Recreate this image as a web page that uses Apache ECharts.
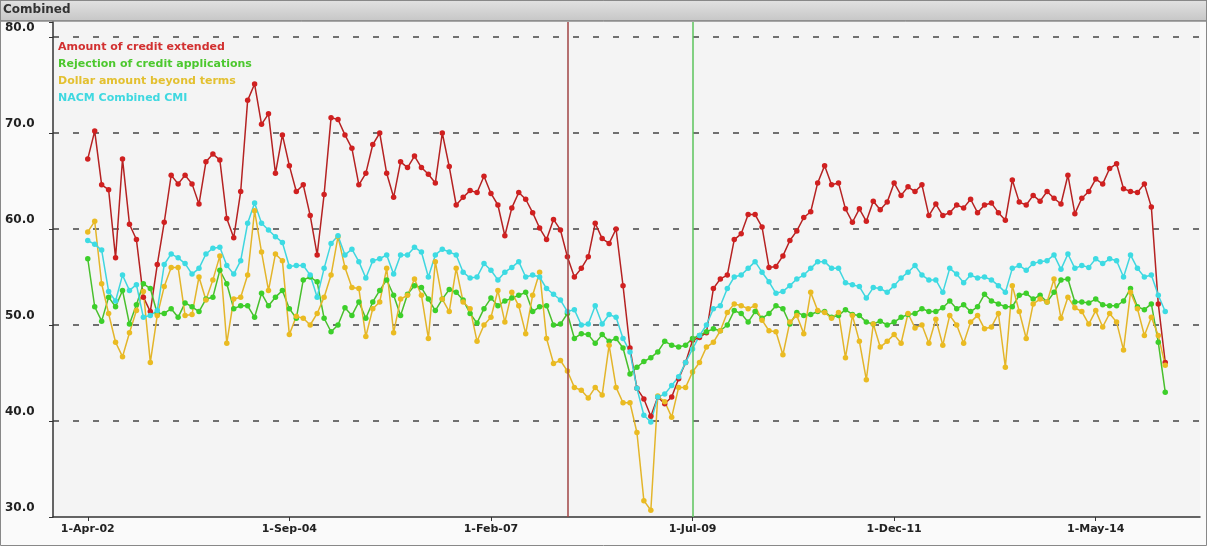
<!DOCTYPE html>
<html>
<head>
<meta charset="utf-8">
<script src="https://cdn.jsdelivr.net/npm/echarts@6/dist/echarts.min.js"></script>
<style>
html,body{margin:0;padding:0;background:#fafafa;}
#chart{width:1207px;height:546px;}
</style>
</head>
<body>
<div id="chart"></div>
<script>
// ---- categories (monthly, first-of-month) ----
const monthNames = ['Jan','Feb','Mar','Apr','May','Jun','Jul','Aug','Sep','Oct','Nov','Dec'];
const firstCatYear = 2001, firstCatMonth = 10;   // axis starts at 1-Nov-01
const categoryCount = 166;                        // through 1-Aug-15
const dataStartOffset = 5;                        // first data point = 1-Apr-02
const tickLabels = ['1-Apr-02','1-Sep-04','1-Feb-07','1-Jul-09','1-Dec-11','1-May-14'];
const markerLines = ['1-Jan-08','1-Jul-09'];

const seriesNames = ['Amount of credit extended','Rejection of credit applications','Dollar amount beyond terms','NACM Combined CMI'];

// ---- series values, Apr-02 .. Mar-15 ----
const creditExtended = [
67.3,70.2,64.6,64.1,57.0,67.3,60.5,58.9,52.9,51.4,56.3,60.7,65.6,64.7,65.6,64.7,62.6,67.0,67.8,67.2,
61.1,59.1,63.9,73.4,75.1,70.9,72.0,65.8,69.8,66.6,63.9,64.6,61.4,57.3,63.6,71.6,71.4,69.8,68.4,64.6,
65.8,68.8,70.0,65.8,63.3,67.0,66.4,67.6,66.4,65.7,64.8,70.0,66.5,62.5,63.3,64.0,63.8,65.5,63.7,62.5,
59.3,62.2,63.8,63.1,61.7,60.1,58.9,61.0,59.9,57.1,55.0,55.9,57.1,60.6,59.0,58.5,60.0,54.1,47.6,43.4,
42.3,40.5,42.5,41.8,42.5,44.4,46.1,48.4,48.7,49.2,53.8,54.8,55.2,58.9,59.5,61.5,61.5,60.2,56.0,56.1,
57.2,58.8,59.8,61.2,61.8,64.8,66.6,64.6,64.8,62.1,60.7,62.1,60.8,62.9,62.0,62.8,64.8,63.5,64.4,63.9,
64.6,61.4,62.6,61.4,61.7,62.5,62.2,63.1,61.7,62.5,62.7,61.7,60.9,65.1,62.8,62.5,63.5,62.9,63.9,63.2,
62.6,65.6,61.6,63.2,63.9,65.2,64.7,66.3,66.8,64.2,63.9,63.8,64.7,62.3,52.2,46.1];

const rejections = [
56.9,51.9,50.4,52.9,51.9,53.6,50.1,52.1,54.3,53.8,51.2,51.2,51.7,50.8,52.3,51.9,51.4,52.7,52.9,55.7,
54.3,51.7,52.0,52.0,50.8,53.3,52.0,52.9,53.6,51.7,50.7,54.7,55.0,54.5,50.7,49.3,50.0,51.8,51.0,52.4,
50.7,52.4,53.6,54.7,53.1,51.0,53.2,54.1,53.9,52.7,51.5,52.7,53.7,53.4,52.6,51.2,50.2,51.7,52.8,52.0,
52.5,52.8,53.1,53.4,51.4,51.9,52.0,50.0,50.1,51.2,48.6,49.1,49.0,48.1,49.0,48.3,48.6,47.6,44.9,45.6,
46.2,46.6,47.2,48.3,47.9,47.7,47.9,48.6,48.9,49.3,49.6,49.4,50.0,51.5,51.2,50.3,51.4,50.7,51.2,52.0,
51.7,50.1,51.3,51.0,51.1,51.4,51.4,50.8,51.0,51.6,51.1,51.0,50.3,50.1,50.4,50.0,50.3,50.8,51.1,51.2,
51.7,51.4,51.4,51.8,52.5,51.7,52.1,51.4,51.9,53.2,52.5,52.2,51.9,51.9,53.1,53.3,52.7,53.1,52.4,53.4,
54.7,54.8,52.4,52.4,52.3,52.7,52.1,52.0,52.0,52.5,53.8,51.9,51.6,52.2,48.2,43.0];

const beyondTerms = [
59.7,60.8,54.3,51.2,48.2,46.7,49.2,51.5,53.5,46.1,51.0,54.0,56.0,56.0,51.0,51.1,55.0,52.6,54.7,57.2,
48.1,52.7,52.9,55.2,61.9,57.6,53.6,57.4,56.7,49.0,50.9,50.7,50.0,51.2,52.9,55.2,59.2,56.0,53.9,53.8,
48.8,51.7,52.4,55.9,49.2,52.7,53.1,54.8,53.1,48.6,56.6,52.7,51.4,55.9,52.4,51.7,48.3,50.0,50.8,53.6,
50.3,53.4,52.0,49.1,53.1,55.5,48.6,46.0,46.3,45.2,43.5,43.2,42.4,43.5,42.7,47.9,43.5,41.9,41.9,38.8,
31.7,30.7,42.6,42.0,40.4,43.5,43.5,45.1,46.1,47.7,48.2,49.4,51.3,52.2,52.0,51.7,52.0,50.5,49.4,49.3,
46.9,50.3,51.0,49.1,53.4,51.5,51.3,50.7,51.3,46.6,51.0,48.3,44.3,50.1,47.7,48.3,49.0,48.1,51.2,49.7,
50.0,48.1,50.6,47.9,51.0,50.0,48.1,50.3,51.0,49.6,49.8,51.2,45.6,54.1,51.4,48.6,52.2,52.7,52.4,54.8,
50.7,52.9,51.8,51.4,50.1,51.5,49.8,51.2,50.3,47.4,53.4,51.7,48.9,50.8,48.9,45.8];

const combinedCMI = [
58.8,58.4,57.8,53.5,52.5,55.2,53.6,54.2,50.8,51.0,51.5,56.3,57.4,57.0,56.4,55.3,55.9,57.4,58.0,58.1,
56.2,55.3,56.7,60.6,62.7,60.6,59.9,59.2,58.6,56.1,56.2,56.2,55.2,52.9,55.9,58.5,59.3,57.3,57.9,56.6,
54.9,56.7,56.9,57.3,55.3,57.3,57.3,58.1,57.6,55.0,57.3,57.9,57.6,57.3,55.5,54.9,55.0,56.4,55.7,54.7,
55.5,56.0,56.6,55.0,55.2,55.0,53.8,53.2,52.6,51.4,51.6,50.0,50.1,52.0,50.1,51.1,50.8,48.6,47.2,43.4,
40.6,39.9,42.5,42.8,43.7,44.6,46.1,47.5,48.9,50.0,51.7,52.0,53.8,55.0,55.2,55.9,56.6,55.5,54.5,53.3,
53.5,54.1,54.8,55.2,55.9,56.6,56.6,55.9,55.9,54.4,54.2,54.0,52.8,53.9,53.8,53.4,54.1,54.9,55.5,56.2,
55.2,54.7,54.7,53.4,55.9,55.3,54.4,55.2,54.9,55.0,54.7,54.1,53.4,55.9,56.2,55.7,56.4,56.6,56.7,57.3,
55.8,57.4,55.9,56.2,56.0,56.9,56.4,56.9,56.7,55.0,57.3,55.9,55.0,55.2,53.1,51.4];

const yTickValues = [30, 40, 50, 60, 70, 80];

// ---- build categories ----
const categories = [];
for (let k = 0; k < categoryCount; k++) {
  const t = firstCatMonth + k;
  const m = t % 12;
  const y = firstCatYear + Math.floor(t / 12);
  categories.push('1-' + monthNames[m] + '-' + String(y % 100).padStart(2, '0'));
}
const toPairs = arr => arr.map((v, k) => [categories[k + dataStartOffset], v]);

const FONT = 'DejaVu Sans';
const lineColors = ['#b52222', '#48bf2c', '#e3b52a', '#3fd6df'];
const dotColors  = ['#d02020', '#3ccf2a', '#eabb22', '#3ddbe3'];
const legendColors = ['#d23030', '#4cc82e', '#e3c030', '#3fd8e0'];
const valuesList = [creditExtended, rejections, beyondTerms, combinedCMI];

const isTick = (idx, val) => tickLabels.indexOf(val) >= 0;

const series = valuesList.map((vals, s) => ({
  name: seriesNames[s],
  type: 'line',
  data: toPairs(vals),
  symbol: 'circle',
  symbolSize: 5.5,
  showSymbol: true,
  showAllSymbol: true,
  lineStyle: { width: 1.5, color: lineColors[s] },
  itemStyle: { color: dotColors[s], borderWidth: 0 },
  emphasis: { disabled: true },
  z: 3
}));
series[0].markLine = {
  silent: true,
  symbol: ['none', 'none'],
  label: { show: false },
  lineStyle: { type: 'solid', width: 1.5 },
  data: [
    { xAxis: markerLines[0], lineStyle: { color: '#a04545', type: 'solid', width: 1.5 } },
    { xAxis: markerLines[1], lineStyle: { color: '#5cc45c', type: 'solid', width: 1.5 } }
  ]
};

const chart = echarts.init(document.getElementById('chart'), null, { renderer: 'canvas' });
chart.setOption({
  animation: false,
  backgroundColor: '#fafafa',
  textStyle: { fontFamily: FONT },
  grid: { left: 53, right: 7, top: 22, bottom: 29, show: true, backgroundColor: '#f4f4f4', borderWidth: 0 },
  legend: {
    orient: 'vertical',
    left: 53, top: 40,
    padding: 0,
    itemGap: 3,
    itemWidth: 0, itemHeight: 0,
    icon: 'rect',
    selectedMode: false,
    textStyle: { fontFamily: FONT, fontWeight: 'bold', fontSize: 11, lineHeight: 14 },
    data: seriesNames.map((n, s) => ({ name: n, textStyle: { color: legendColors[s] } }))
  },
  xAxis: {
    type: 'category',
    boundaryGap: false,
    data: categories,
    axisLine: { lineStyle: { color: '#333', width: 1.5 } },
    axisTick: { show: true, interval: isTick, length: 4, lineStyle: { color: '#333' } },
    axisLabel: { interval: isTick, color: '#222', fontWeight: 'bold', fontSize: 11, fontFamily: FONT, margin: 7 },
    splitLine: { show: false }
  },
  yAxis: {
    type: 'value',
    min: yTickValues[0],
    max: 81.5625,
    interval: 10,
    axisLine: { show: true, lineStyle: { color: '#333', width: 1.5 } },
    axisTick: { show: true, length: 4, lineStyle: { color: '#333' } },
    axisLabel: {
      color: '#222', fontWeight: 'bold', fontSize: 12, fontFamily: FONT,
      align: 'left', verticalAlign: 'bottom', margin: 48, padding: [0, 0, 3, 0],
      formatter: v => (yTickValues.indexOf(v) >= 0 ? v.toFixed(1) : '')
    },
    splitLine: { show: true, showMinLine: false, showMaxLine: false,
      lineStyle: { color: '#444', width: 1.5, type: [6, 14] } }
  },
  graphic: [
    { type: 'rect', shape: { x: 0, y: 0, width: 1207, height: 21 },
      style: { fill: new echarts.graphic.LinearGradient(0, 0, 0, 1, [
        { offset: 0, color: '#e2e2e2' }, { offset: 1, color: '#c6c6c6' }]), stroke: '#555', lineWidth: 1 }, z: 10 },
    { type: 'text', left: 3, top: 4, z: 11,
      style: { text: 'Combined', fill: '#333', font: 'bold 12px "DejaVu Sans"' } },
    { type: 'rect', shape: { x: 0.5, y: 0.5, width: 1206, height: 545 },
      style: { fill: 'none', stroke: '#888', lineWidth: 1 }, z: 12 }
  ],
  series: series
});
</script>
</body>
</html>
